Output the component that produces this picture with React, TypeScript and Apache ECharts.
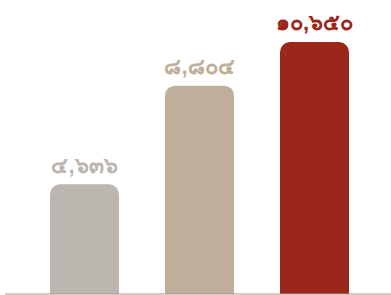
import React, { useEffect, useRef } from "react";
import * as echarts from "echarts";

const categories = ["A", "B", "C"];
const values = [4636, 8804, 10650];
const labels = ["๔,๖๓๖", "๘,๘๐๔", "๑๐,๖๕๐"];
const colors = ["#bbb6b0", "#bfae9a", "#9a2719"];

export default function App() {
  const ref = useRef<HTMLDivElement>(null);
  useEffect(() => {
    if (!ref.current) return;
    const chart = echarts.init(ref.current, null, { renderer: "svg" });
    chart.setOption({
      animation: false,
      grid: { left: 27, right: 19, top: 10, bottom: 1, containLabel: false },
      xAxis: {
        type: "category",
        data: categories,
        axisLine: { show: false },
        axisTick: { show: false },
        axisLabel: { show: false },
      },
      yAxis: {
        type: "value",
        min: 0,
        max: 12000,
        show: false,
        splitLine: { show: false },
      },
      graphic: [
        {
          type: "line",
          shape: { x1: 5, y1: 294, x2: 391, y2: 294 },
          style: { stroke: "#a09b8a", lineWidth: 1.2 },
          z: 10,
        },
      ],
      series: [
        {
          type: "bar",
          barWidth: 69,
          data: values.map((v, i) => ({
            value: v,
            itemStyle: { color: colors[i], borderRadius: [10, 10, 0, 0] },
            label: {
              show: true,
              position: "top",
              distance: 8,
              formatter: labels[i],
              color: colors[i],
              fontSize: 22,
              fontWeight: "bold",
            },
          })),
        },
      ],
    });
    return () => chart.dispose();
  }, []);
  return <div ref={ref} style={{ width: 391, height: 295, position: "absolute", left: 0, top: 0 }} />;
}
